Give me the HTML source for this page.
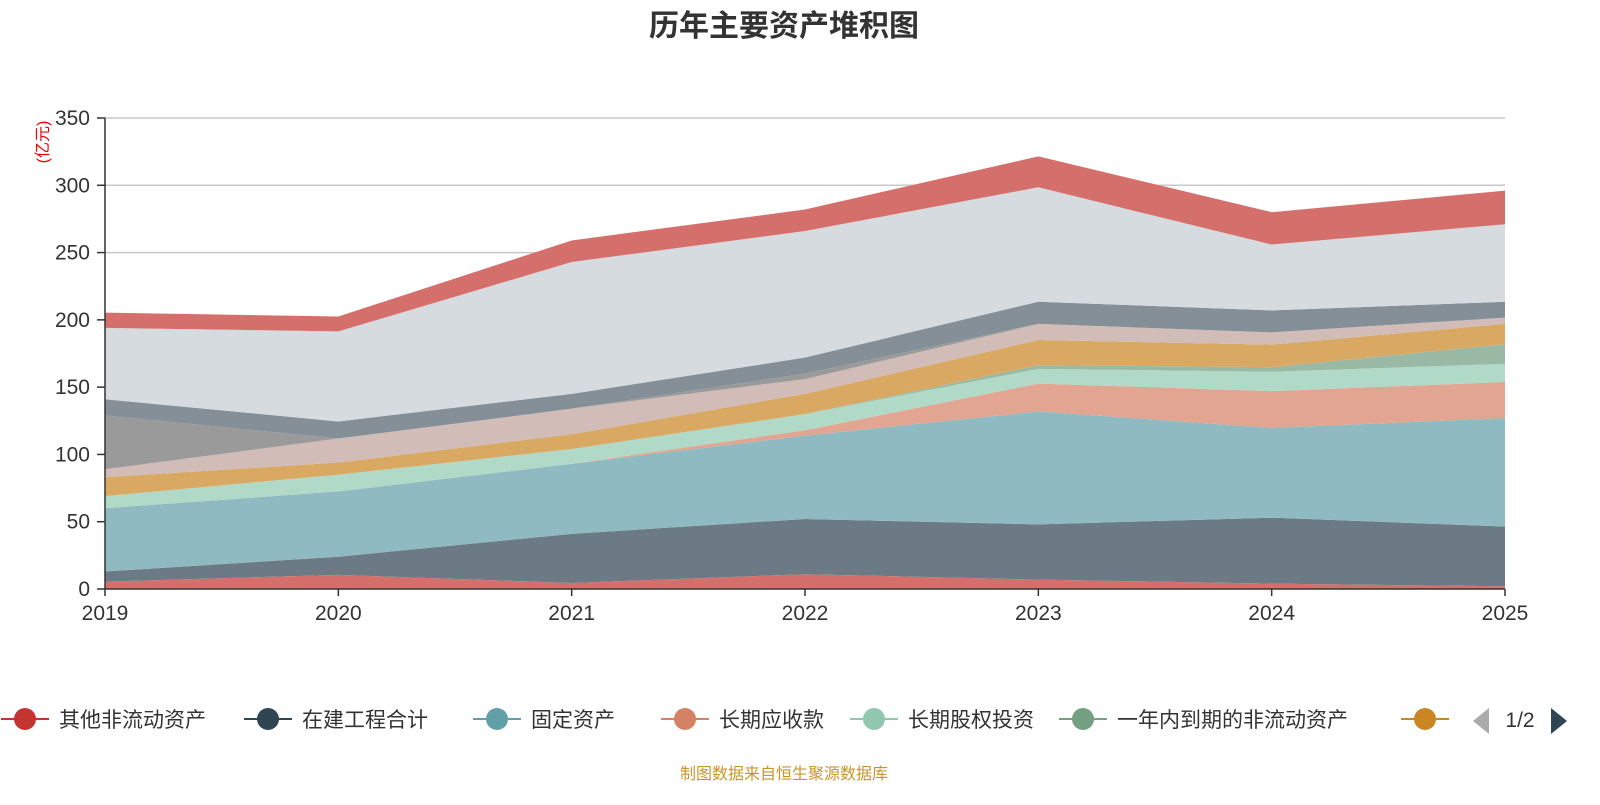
<!DOCTYPE html>
<html><head><meta charset="utf-8"><style>
body{margin:0;background:#fff;width:1600px;height:800px;overflow:hidden;font-family:"Liberation Sans","Noto Sans CJK SC",sans-serif}
</style></head><body>
<svg id="chart" width="1600" height="800" xmlns="http://www.w3.org/2000/svg" font-family="Liberation Sans, Noto Sans CJK SC, sans-serif">
<text x="784" y="36" text-anchor="middle" font-size="30" font-weight="bold" fill="#333">历年主要资产堆积图</text>
<text transform="translate(48,142) rotate(-90)" text-anchor="middle" font-size="16" fill="#e00">(亿元)</text>
<g id="grid"></g><g id="areas"></g><g id="axes"></g><g id="legend"></g>
<text x="784" y="779" text-anchor="middle" font-size="16" fill="#c9962a">制图数据来自恒生聚源数据库</text>
</svg>
<script>
const years=["2019","2020","2021","2022","2023","2024","2025"];
const yTicks=[0,50,100,150,200,250,300,350];
const s1=[5.5,10.5,4.5,11,7,4,2];
const s2=[7.5,13.5,36.5,41,41,49,44.4];
const s3=[47,48.5,52,62,84,66.7,80.6];
const s4=[0,0,0,4,20.6,27.3,26.8];
const s5=[9,12.5,11,12,11,14.4,13.5];
const s6=[0,0,0,0,2.7,3.5,14.7];
const s7=[14,9,11,15,18.7,16.7,15];
const s8=[6,17.8,19,11,12,9.1,4.7];
const s9=[40,0,0,4,0,0,0];
const s10=[12,12.7,11,12,16.5,16.3,11.8];
const s11=[53,66.9,98,94,85,49,57.5];
const s12=[11.4,11.1,16,16,23,24,25];
const seriesNames=["其他非流动资产","在建工程合计","固定资产","长期应收款","长期股权投资","一年内到期的非流动资产","其他资产7","其他资产8","其他资产9","其他资产10","其他资产11","其他资产12"];
const series=[s1,s2,s3,s4,s5,s6,s7,s8,s9,s10,s11,s12];
const fills=["#d56f6c","#6c7a86","#90bac2","#e2a592","#b0d9c7","#9ab9a4","#d9a862","#d1bcb7","#9a9a9a","#848f97","#d6dbdf","#d56f6c"];
const legendColors=["#c23531","#2f4554","#61a0a8","#d48265","#91c7ae","#749f83","#ca8622"];
const NS="http://www.w3.org/2000/svg";
const X0=105,X1=1505,Y0=589,Y1=118,YMAX=350;
const xs=i=>X0+(X1-X0)*i/(years.length-1);
const ys=v=>Y0-(Y0-Y1)*v/YMAX;
function mk(t,a,p){const e=document.createElementNS(NS,t);for(const k in a)e.setAttribute(k,a[k]);p.appendChild(e);return e;}
const grid=document.getElementById('grid'),axes=document.getElementById('axes'),areas=document.getElementById('areas'),legend=document.getElementById('legend');
yTicks.forEach(v=>{
 if(v>0){const g=mk('line',{x1:X0,x2:X1,y1:ys(v),y2:ys(v),stroke:'#c8c8c8','stroke-width':1.5},grid);
 
 }
 const t=mk('text',{x:90,y:ys(v)+7,'text-anchor':'end','font-size':21,fill:'#333'},axes);t.textContent=v;
 
 
 mk('line',{x1:X0-8,x2:X0,y1:ys(v),y2:ys(v),stroke:'#333','stroke-width':1.5},axes);
});
let cum=years.map(()=>0);
series.forEach((s,k)=>{
 const top=cum.map((c,i)=>c+s[i]);
 let d='M'+years.map((_,i)=>xs(i)+','+ys(top[i])).join('L');
 for(let i=years.length-1;i>=0;i--)d+='L'+xs(i)+','+ys(cum[i]);
 const p=mk('path',{d:d+'Z',fill:fills[k]},areas);
 
 
 cum=top;
});
mk('line',{x1:X0,x2:X0,y1:Y1,y2:Y0,stroke:'#333','stroke-width':1.5},axes);
mk('line',{x1:X0,x2:X1,y1:Y0,y2:Y0,stroke:'#333','stroke-width':1.5},axes);
years.forEach((y,i)=>{
 mk('line',{x1:xs(i),x2:xs(i),y1:Y0,y2:Y0+7,stroke:'#333','stroke-width':1.5},axes);
 const t=mk('text',{x:xs(i),y:620,'text-anchor':'middle','font-size':21,fill:'#333'},axes);t.textContent=y;
 
 
});
const lx=[25,268,497,685,874,1083,1425];
legendColors.forEach((c,i)=>{
 const g=mk('g',{},legend);
 
 
 mk('line',{x1:lx[i]-24,x2:lx[i]+24,y1:719,y2:719,stroke:c,'stroke-width':2},g);
 mk('circle',{cx:lx[i],cy:719,r:11,fill:c},g);
 if(i<6){const t=mk('text',{x:lx[i]+34,y:727,'font-size':21,fill:'#333'},g);t.textContent=seriesNames[i];}
});
const pl=mk('path',{d:'M1489,708L1489,734L1473,721Z',fill:'#aaa'},legend);


const pt=mk('text',{x:1520,y:727,'text-anchor':'middle','font-size':21,fill:'#333'},legend);pt.textContent='1/2';


const pn=mk('path',{d:'M1551,708L1551,734L1567,721Z',fill:'#2f4554'},legend);


</script>
</body></html>
